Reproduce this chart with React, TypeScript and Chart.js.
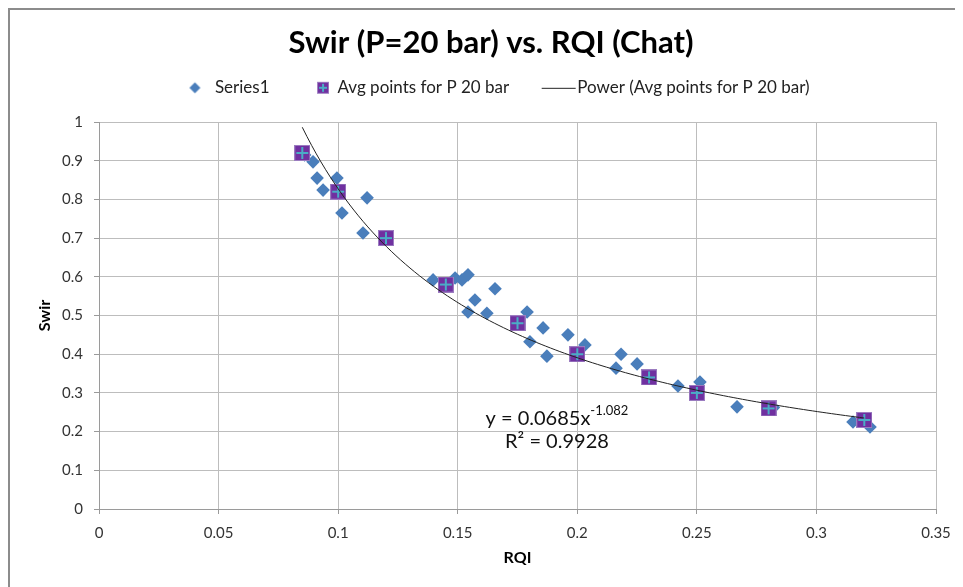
import React, { useEffect, useRef } from 'react';
import { Chart, registerables } from 'chart.js';

Chart.register(...registerables);

const TITLE = 'Swir (P=20 bar) vs. RQI (Chat)';
const X_TITLE = 'RQI';
const Y_TITLE = 'Swir';
const SERIES1_LABEL = 'Series1';
const AVG_LABEL = 'Avg points for P 20 bar';
const TREND_LABEL = 'Power (Avg points for P 20 bar)';

const series1X = [0.086, 0.0895, 0.0912, 0.0937, 0.0995, 0.1016, 0.1104, 0.1121, 0.1397, 0.1489, 0.1518, 0.1543, 0.1656, 0.1572, 0.1543, 0.1622, 0.179, 0.1857, 0.1802, 0.1961, 0.1873, 0.2032, 0.2183, 0.2162, 0.225, 0.2421, 0.2513, 0.2668, 0.282, 0.3153, 0.3224];
const series1Y = [0.915, 0.897, 0.855, 0.824, 0.855, 0.765, 0.713, 0.804, 0.592, 0.597, 0.592, 0.605, 0.569, 0.54, 0.509, 0.506, 0.509, 0.468, 0.432, 0.45, 0.395, 0.424, 0.4, 0.364, 0.375, 0.318, 0.328, 0.264, 0.262, 0.225, 0.212];

const avgX = [0.085, 0.1, 0.12, 0.145, 0.175, 0.2, 0.23, 0.25, 0.28, 0.32];
const avgY = [0.92, 0.82, 0.7, 0.58, 0.48, 0.4, 0.34, 0.3, 0.26, 0.23];

const powerCoef = 0.0685;
const powerExp = -1.082;
const eqMain = 'y = 0.0685x';
const eqExp = '-1.082';
const eqR2 = 'R² = 0.9928';

const xTicks = [0, 0.05, 0.1, 0.15, 0.2, 0.25, 0.3, 0.35];
const yTicks = [0, 0.1, 0.2, 0.3, 0.4, 0.5, 0.6, 0.7, 0.8, 0.9, 1];

const FONT = 'Lato, "Open Sans", sans-serif';
const BLUE = '#4a7ebb';
const PURPLE = '#7030a0';
const CYAN = '#4bacc6';

const LEGEND_EXTRA = 15.7;
const TITLE_SHIFT = 18;
const LEGEND_SHIFT = 16;

function diamondCanvas(w: number, h: number, cx: number, r: number) {
  const c = document.createElement('canvas');
  c.width = w; c.height = h;
  const g = c.getContext('2d')!;
  const cy = h / 2;
  g.fillStyle = BLUE;
  g.beginPath();
  g.moveTo(cx - r, cy); g.lineTo(cx, cy - r); g.lineTo(cx + r, cy); g.lineTo(cx, cy + r);
  g.closePath(); g.fill();
  return c;
}

function squareCanvas(w: number, h: number, cx: number, s: number) {
  const c = document.createElement('canvas');
  c.width = w; c.height = h;
  const g = c.getContext('2d')!;
  const x0 = Math.round(cx - s / 2);
  const y0 = Math.round(h / 2 - s / 2);
  g.fillStyle = '#9b7cc0';
  g.fillRect(x0, y0, s, s);
  g.fillStyle = PURPLE;
  g.fillRect(x0 + 1, y0 + 1, s - 2, s - 2);
  g.fillStyle = CYAN;
  const m = Math.floor(s / 2) - 1;
  g.fillRect(x0 + m, y0 + 2, 2, s - 4);
  g.fillRect(x0 + 2, y0 + m, s - 4, 2);
  return c;
}

function lineCanvas(w: number, h: number, x1: number, x2: number) {
  const c = document.createElement('canvas');
  c.width = w; c.height = h;
  const g = c.getContext('2d')!;
  g.fillStyle = '#222';
  g.fillRect(x1, Math.floor(h / 2), x2 - x1, 1);
  return c;
}

export default function App() {
  const ref = useRef<HTMLCanvasElement | null>(null);

  useEffect(() => {
    const canvas = ref.current;
    if (!canvas) return;

    const pointSquare = squareCanvas(16, 16, 8, 16);
    const legendDiamond = diamondCanvas(38, 16, 26.5, 5.5);
    const legendSquare = squareCanvas(38, 16, 31.5, 12);
    const legendLine = lineCanvas(86, 16, 35, 69);

    const s1 = series1X.map((x, i) => ({ x, y: series1Y[i] }));
    const avg = avgX.map((x, i) => ({ x, y: avgY[i] }));
    const xStart = avgX[0];
    const xEnd = avgX[avgX.length - 1];
    const nTrend = 120;
    const trend: { x: number; y: number }[] = [];
    for (let i = 0; i <= nTrend; i++) {
      const x = xStart + ((xEnd - xStart) * i) / nTrend;
      trend.push({ x, y: powerCoef * Math.pow(x, powerExp) });
    }

    const layoutPlugin = {
      id: 'layoutTweak',
      beforeLayout(chart: any) {
        const lg = chart.legend;
        if (lg && !lg.__patched) {
          const f = lg.fit;
          lg.fit = function () {
            f.call(this);
            this.height += LEGEND_EXTRA;
          };
          lg.__patched = true;
        }
      },
      afterLayout(chart: any) {
        if (chart.titleBlock) {
          chart.titleBlock.left += TITLE_SHIFT;
          chart.titleBlock.right += TITLE_SHIFT;
        }
        if (chart.legend) {
          chart.legend.left += LEGEND_SHIFT;
          chart.legend.right += LEGEND_SHIFT;
        }
      },
    };

    const eqPlugin = {
      id: 'equation',
      afterDatasetsDraw(chart: any) {
        const { ctx, scales } = chart;
        const cx = scales.x.getPixelForValue(0.1915);
        const y1 = scales.y.getPixelForValue(0.233);
        const y2 = scales.y.getPixelForValue(0.174);
        ctx.save();
        ctx.fillStyle = '#111';
        ctx.textBaseline = 'middle';
        ctx.textAlign = 'left';
        const mainFont = `20px ${FONT}`;
        const supFont = `13px ${FONT}`;
        ctx.font = mainFont;
        const wMain = ctx.measureText(eqMain).width;
        ctx.font = supFont;
        const wSup = ctx.measureText(eqExp).width;
        const left = cx - (wMain + wSup) / 2;
        ctx.font = mainFont;
        ctx.fillText(eqMain, left, y1);
        ctx.font = supFont;
        ctx.fillText(eqExp, left + wMain, y1 - 8);
        ctx.font = mainFont;
        ctx.textAlign = 'center';
        ctx.fillText(eqR2, cx, y2);
        ctx.restore();
      },
    };

    const chart = new Chart(canvas, {
      type: 'scatter',
      data: {
        datasets: [
          {
            label: SERIES1_LABEL,
            data: s1,
            pointStyle: 'rectRot',
            pointRadius: 6.8,
            pointHoverRadius: 6.8,
            backgroundColor: BLUE,
            borderColor: BLUE,
            borderWidth: 0,
            order: 3,
          },
          {
            label: AVG_LABEL,
            data: avg,
            pointStyle: pointSquare as any,
            pointRadius: 8,
            backgroundColor: PURPLE,
            borderColor: PURPLE,
            order: 2,
          },
          {
            label: TREND_LABEL,
            data: trend,
            showLine: true,
            pointRadius: 0,
            pointHoverRadius: 0,
            borderColor: '#222',
            borderWidth: 1,
            fill: false,
            tension: 0,
            order: 1,
          },
        ],
      },
      options: {
        responsive: false,
        animation: false,
        devicePixelRatio: 1,
        layout: { padding: { left: 0, right: 27, top: 0, bottom: 0 } },
        plugins: {
          tooltip: { enabled: false },
          title: {
            display: true,
            text: TITLE,
            color: '#000',
            font: { family: FONT, size: 31, weight: 'bold', lineHeight: 1.2 },
            padding: { top: 14.5, bottom: -3.9 },
          },
          legend: {
            display: true,
            position: 'top',
            labels: {
              usePointStyle: true,
              pointStyleWidth: 38,
              padding: 21.5,
              font: { family: FONT, size: 17 },
              color: '#222',
              generateLabels: () => [
                { text: SERIES1_LABEL, pointStyle: legendDiamond as any, datasetIndex: 0, fillStyle: BLUE, strokeStyle: BLUE, lineWidth: 0, hidden: false, fontColor: '#222' },
                { text: AVG_LABEL, pointStyle: legendSquare as any, datasetIndex: 1, fillStyle: PURPLE, strokeStyle: PURPLE, lineWidth: 0, hidden: false, fontColor: '#222' },
                { text: TREND_LABEL, pointStyle: legendLine as any, datasetIndex: 2, fillStyle: '#222', strokeStyle: '#222', lineWidth: 0, hidden: false, fontColor: '#222' },
              ],
            },
          },
        },
        scales: {
          x: {
            type: 'linear',
            min: 0,
            max: 0.35,
            afterBuildTicks: (s: any) => {
              s.ticks = xTicks.map((v) => ({ value: v }));
            },
            afterFit: (s: any) => {
              s.height = 78;
            },
            ticks: {
              font: { family: FONT, size: 15 },
              color: '#333',
              padding: 10,
              maxRotation: 0,
              callback: (v: any) => String(+Number(v).toFixed(2)),
            },
            grid: { color: '#bdbdbd', tickColor: '#9a9a9a', tickLength: 5, lineWidth: 1 },
            border: { color: '#9a9a9a', width: 1 },
            title: {
              display: true,
              text: X_TITLE,
              color: '#000',
              font: { family: FONT, size: 16, weight: 'bold', lineHeight: 1.2 },
              padding: { top: 0, bottom: 20 },
            },
          },
          y: {
            type: 'linear',
            min: 0,
            max: 1,
            afterBuildTicks: (s: any) => {
              s.ticks = yTicks.map((v) => ({ value: v }));
            },
            afterFit: (s: any) => {
              s.width = 89;
            },
            ticks: {
              font: { family: FONT, size: 15 },
              color: '#333',
              padding: 11,
              callback: (v: any) => String(+Number(v).toFixed(2)),
            },
            grid: { color: '#bdbdbd', tickColor: '#9a9a9a', tickLength: 5, lineWidth: 1 },
            border: { color: '#9a9a9a', width: 1 },
            title: {
              display: true,
              text: Y_TITLE,
              color: '#000',
              font: { family: FONT, size: 16, weight: 'bold', lineHeight: 1.2 },
              padding: { top: 25, bottom: 0 },
            },
          },
        },
      },
      plugins: [layoutPlugin, eqPlugin],
    });

    return () => chart.destroy();
  }, []);

  return (
    <div
      style={{
        width: 953,
        height: 577,
        borderTop: '2px solid #8c8c8c',
        borderLeft: '2px solid #8c8c8c',
        background: '#fff',
      }}
    >
      <canvas ref={ref} width={953} height={577} style={{ display: 'block', width: 953, height: 577 }} />
    </div>
  );
}
